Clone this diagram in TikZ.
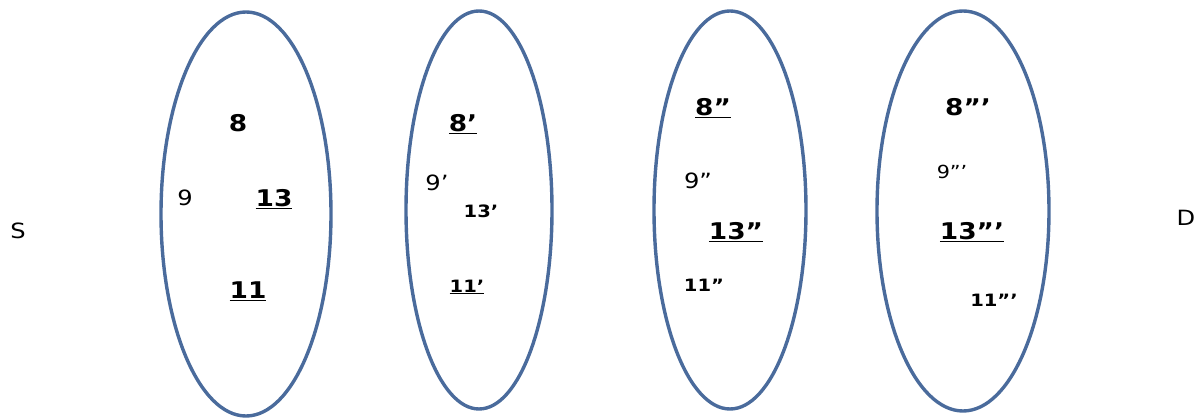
\documentclass[tikz,border=0pt]{standalone}
\usepackage{fontspec}
\setmainfont{DejaVu Sans}[FakeStretch=1.15]
\newfontfamily\lblfont{DejaVu Sans}[FakeStretch=1.15]
\definecolor{ellblue}{HTML}{4A6B9C}
\begin{document}
\begin{tikzpicture}[x=1pt,y=-1pt,
  setell/.style={draw=ellblue,line width=3.4pt},
  lab/.style={inner sep=0pt,font=\lblfont\bfseries\fontsize{23}{23}\selectfont},
  labs/.style={inner sep=0pt,font=\lblfont\bfseries\fontsize{17}{17}\selectfont},
  labr/.style={inner sep=0pt,font=\lblfont\fontsize{21}{21}\selectfont},
  labrs/.style={inner sep=0pt,font=\lblfont\fontsize{18}{18}\selectfont}]
\useasboundingbox (0,0) rectangle (1200,419);
\draw[setell] (246,214) ellipse [x radius=85, y radius=202] coordinate (e1);
\draw[setell] (479,210) ellipse [x radius=73, y radius=199] coordinate (e2);
\draw[setell] (730,210) ellipse [x radius=76, y radius=199] coordinate (e3);
\draw[setell] (963,211) ellipse [x radius=86, y radius=200] coordinate (e4);
\node[labr] (S) at (18,231) {S};
\node[labr] (D) at (1186,218) {D};
% set 1
\node[lab] (a8) at (238,123) {8};
\node[labr] (a9) at (185,198) {9};
\node[lab] (a13) at (274,199) {\underline{13}};
\node[lab] (a11) at (248,291) {\underline{11}};
% set 2
\node[lab] (b8) at (463,124) {\underline{8’}};
\node[labr] (b9) at (437,183) {9’};
\node[labs] (b13) at (481,211) {13’};
\node[labs] (b11) at (467,287) {\underline{11’}};
% set 3
\node[lab] (c8) at (713,108) {\underline{8”}};
\node[labr] (c9) at (698,181) {9”};
\node[lab] (c13) at (736,232) {\underline{13”}};
\node[labs] (c11) at (704,285) {11”};
% set 4
\node[lab] (d8) at (968,107) {8”’};
\node[labrs] (d9) at (952,172) {9”’};
\node[lab] (d13) at (972,232) {\underline{13”’}};
\node[labs] (d11) at (994,300) {11”’};
\end{tikzpicture}
\end{document}
